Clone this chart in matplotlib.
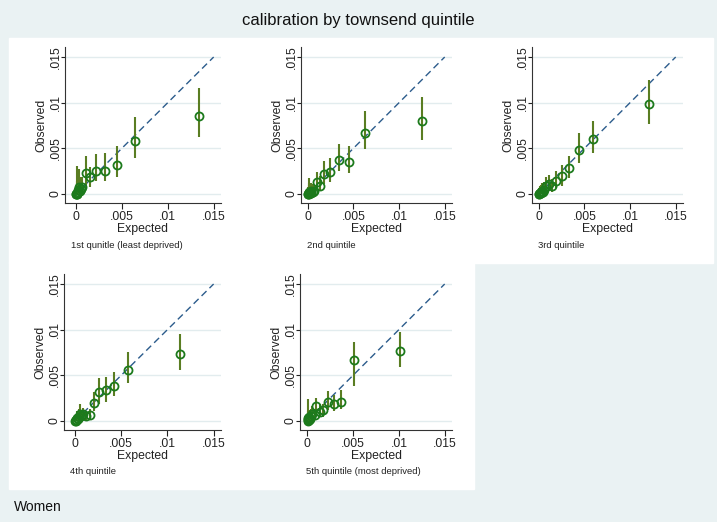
import matplotlib
matplotlib.use('Agg')
import matplotlib.pyplot as plt
from matplotlib.patches import Rectangle

plt.rcParams['font.family'] = ['Liberation Sans', 'DejaVu Sans']

TITLE = 'calibration by townsend quintile'
NOTE = 'Women'
PANEL_NAMES = ['1st qunitle (least deprived)', '2nd quintile', '3rd quintile',
               '4th quintile', '5th quintile (most deprived)']
TICKS = [0, 0.005, 0.01, 0.015]
TICK_LABELS = ['0', '.005', '.01', '.015']

# expected / observed risk with CI per quintile
exp1 = [0.00002, 0.00005, 0.00008, 0.00012, 0.00016, 0.0002, 0.00026, 0.00033, 0.00042,
        0.00055, 0.0007, 0.00106, 0.00157, 0.0022, 0.00318, 0.00446, 0.0064, 0.01343]
obs1 = [0.0, 0.0, 0.00004, 0.0001, 0.0, 0.00045, 0.0002, 0.0008, 0.0003,
        0.0005, 0.00073, 0.0023, 0.0018, 0.00255, 0.00248, 0.00314, 0.00577, 0.0085]
lo1 = [0, 0, 0, 0, 0, 0.00005, 0, 0.0002, 0,
       0.0001, 0.0002, 0.0006, 0.0008, 0.0014, 0.0014, 0.0019, 0.0039, 0.0062]
hi1 = [0.0007, 0.0009, 0.0012, 0.0031, 0.0014, 0.0026, 0.0015, 0.0027, 0.0013,
       0.0018, 0.0019, 0.0042, 0.0030, 0.0044, 0.0045, 0.0052, 0.0084, 0.0116]

exp2 = [0.00002, 0.00005, 0.00009, 0.00013, 0.00018, 0.00024, 0.0003, 0.0004, 0.00052,
        0.00066, 0.00095, 0.0013, 0.0018, 0.00245, 0.00337, 0.00446, 0.00622, 0.01255]
obs2 = [0.0, 0.00003, 0.0, 0.0001, 0.0002, 0.00005, 0.0003, 0.0001, 0.0002,
        0.00036, 0.00128, 0.0009, 0.0022, 0.0024, 0.00376, 0.0035, 0.00664, 0.00796]
lo2 = [0, 0, 0, 0, 0, 0, 0.00005, 0, 0.00003,
       0.0001, 0.0004, 0.0003, 0.0011, 0.0013, 0.00255, 0.0023, 0.0049, 0.00595]
hi2 = [0.0008, 0.0006, 0.001, 0.0017, 0.0012, 0.0008, 0.0012, 0.0009, 0.0011,
       0.001, 0.0024, 0.002, 0.0036, 0.0039, 0.0055, 0.0053, 0.00905, 0.0106]

exp3 = [0.00002, 0.00005, 0.00009, 0.00014, 0.0002, 0.00027, 0.00035, 0.00045, 0.0006,
        0.0008, 0.00106, 0.00149, 0.00193, 0.00258, 0.00335, 0.00437, 0.00597, 0.01205]
obs3 = [0.0, 0.0, 0.00005, 0.0001, 0.00008, 0.0002, 0.0003, 0.0002, 0.0004,
        0.0009, 0.00105, 0.00084, 0.00139, 0.00193, 0.00285, 0.00482, 0.00602, 0.00985]
lo3 = [0, 0, 0, 0, 0, 0, 0.00003, 0, 0.0001,
       0.0003, 0.0003, 0.0002, 0.0006, 0.0009, 0.0017, 0.0034, 0.0045, 0.0077]
hi3 = [0.0004, 0.0006, 0.0007, 0.0009, 0.0008, 0.001, 0.0012, 0.0009, 0.0013,
       0.0019, 0.0021, 0.0016, 0.0025, 0.0032, 0.0042, 0.0067, 0.0080, 0.0125]

exp4 = [0.00002, 0.00005, 0.00009, 0.00014, 0.0002, 0.00028, 0.00038, 0.00048, 0.00065,
        0.00084, 0.0012, 0.0016, 0.00204, 0.00255, 0.00332, 0.00423, 0.0057, 0.01135]
obs4 = [0.0, 0.0, 0.0001, 0.00005, 0.0003, 0.0002, 0.0004, 0.0008, 0.0005,
        0.00073, 0.00048, 0.00062, 0.002, 0.00318, 0.00337, 0.00384, 0.00556, 0.00732]
lo4 = [0, 0, 0, 0, 0.00005, 0, 0.0001, 0.0003, 0.0001,
       0.0002, 0.0001, 0.0001, 0.0011, 0.0019, 0.0021, 0.0027, 0.0041, 0.0056]
hi4 = [0.0004, 0.0005, 0.0008, 0.0006, 0.0011, 0.0009, 0.0013, 0.0018, 0.0012,
       0.0014, 0.0011, 0.0013, 0.0032, 0.0047, 0.0048, 0.0054, 0.0076, 0.0095]

exp5 = [0.00002, 0.00005, 0.00008, 0.00012, 0.00017, 0.00023, 0.0003, 0.0004, 0.00055,
        0.00084, 0.001, 0.0014, 0.0017, 0.00223, 0.00288, 0.00369, 0.00507, 0.0101]
obs5 = [0.0, 0.00005, 0.0002, 0.0003, 0.0001, 0.0004, 0.0002, 0.0005, 0.0008,
        0.00066, 0.00165, 0.001, 0.00117, 0.00212, 0.0019, 0.00212, 0.00666, 0.00765]
lo5 = [0, 0, 0.00002, 0.00005, 0, 0.0001, 0, 0.0001, 0.0003,
       0.0002, 0.0007, 0.0005, 0.0004, 0.0012, 0.0011, 0.00135, 0.00384, 0.00593]
hi5 = [0.0006, 0.0024, 0.0009, 0.0011, 0.0008, 0.0012, 0.0008, 0.0013, 0.0016,
       0.0013, 0.00256, 0.0018, 0.0019, 0.0033, 0.00285, 0.00337, 0.0087, 0.00977]

PANELS = [(exp1, obs1, lo1, hi1), (exp2, obs2, lo2, hi2), (exp3, obs3, lo3, hi3),
          (exp4, obs4, lo4, hi4), (exp5, obs5, lo5, hi5)]

BG = '#EAF2F3'
W, H = 717, 522

# axes boxes in pixels: left, top, right, bottom
BOXES = [(65, 47, 221, 203), (301, 47, 452, 203), (532, 47, 683, 203),
         (64, 274, 221, 430), (300, 274, 452, 430)]
XMIN = [-0.0012, -0.00075, -0.00075, -0.0012, -0.0008]


def px_rect(l, t, r, b):
    return [l / W, 1 - b / H, (r - l) / W, (b - t) / H]


def draw_panel(fig, idx):
    expected, observed, lower, upper = PANELS[idx]
    l, t, r, b = BOXES[idx]
    ax = fig.add_axes(px_rect(l, t, r, b))
    ax.set_facecolor('white')

    for y in TICKS:
        ax.axhline(y, color='#E2ECEE', lw=1.0, zorder=0)

    ax.plot([0, 0.015], [0, 0.015], color='#2C5C8C', lw=1.0, dashes=(5, 3), zorder=1)
    ax.vlines(expected, lower, upper, color='#5A7D22', lw=1.5, zorder=2)
    ax.plot(expected, observed, 'o', ms=5.8, mfc='none', mec='#1C7A1C', mew=1.3, zorder=3)

    ax.set_xlim(XMIN[idx], 0.0158)
    ax.set_ylim(-0.001, 0.0161)
    ax.set_xticks(TICKS, TICK_LABELS)
    ax.set_yticks(TICKS, TICK_LABELS)
    ax.tick_params(length=4, width=0.8, labelsize=8.8, colors='#222222', pad=2)
    ax.tick_params(axis='y', length=3, pad=3.8)
    for lab in ax.get_yticklabels():
        lab.set_rotation(90)
        lab.set_va('center')
        lab.set_ha('center')

    for side in ('top', 'right'):
        ax.spines[side].set_visible(False)
    for side in ('left', 'bottom'):
        ax.spines[side].set_color('#333333')
        ax.spines[side].set_linewidth(0.8)

    ax.set_xlabel('Expected', fontsize=8.8, color='#222222', labelpad=0)
    ax.set_ylabel('Observed', fontsize=8.8, color='#222222')
    ax.yaxis.set_label_coords(-18 / (r - l), 0.5)

    fig.text((l + 6) / W, 1 - (b + 42) / H, PANEL_NAMES[idx], fontsize=6.8,
             color='#222222', ha='left', va='center')


def main() -> None:
    fig = plt.figure(figsize=(W / 100, H / 100), dpi=100)
    fig.patch.set_facecolor(BG)

    fig.add_artist(Rectangle((9 / W, 1 - 263 / H), 704 / W, 225 / H,
                             transform=fig.transFigure, color='white', zorder=-5))
    fig.add_artist(Rectangle((9 / W, 1 - 489 / H), 465 / W, 227 / H,
                             transform=fig.transFigure, color='white', zorder=-5))

    for i in range(len(PANELS)):
        draw_panel(fig, i)

    fig.text(0.5, 1 - 20 / H, TITLE, fontsize=12, ha='center', va='center', color='#111111')
    fig.text(14 / W, 1 - 507 / H, NOTE, fontsize=10, ha='left', va='center', color='#111111')

    fig.savefig('out.png', dpi=100, facecolor=fig.get_facecolor())
    plt.close(fig)


if __name__ == '__main__':
    main()
